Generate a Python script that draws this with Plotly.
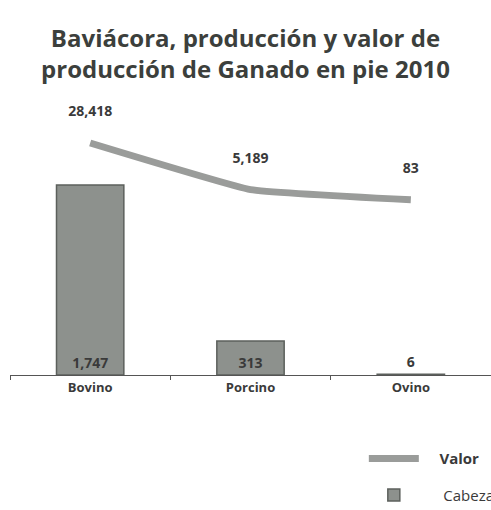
import plotly.graph_objects as go

categorias = ["Bovino", "Porcino", "Ovino"]
cabezas = [1747, 313, 6]
valor = [28418, 5189, 83]
etiquetas_cabezas = ["1,747", "313", "6"]
etiquetas_valor = ["28,418", "5,189", "83"]

NB = "\u00a0"

fig = go.Figure()

fig.add_trace(go.Scatter(
    x=categorias, y=valor, name=NB * 4 + "<b>Valor</b>", yaxis="y2",
    legendgroup="valor",
    mode="lines+markers+text",
    line=dict(color="#9a9c9a", width=7, shape="spline", smoothing=0.3),
    marker=dict(size=36, color="rgba(0,0,0,0)"),
    text=etiquetas_valor, textposition="top center",
    textfont=dict(family="Open Sans", size=14, color="#3a3a3a", weight="bold"),
    cliponaxis=False,
))

fig.add_trace(go.Bar(
    x=categorias, y=cabezas, name=NB * 5 + "Cabezas",
    legendgroup="cabezas",
    marker=dict(color="#8d918d", line=dict(color="#5c605c", width=1.5)),
    width=0.42,
    text=etiquetas_cabezas,
    textposition=["inside", "inside", "outside"],
    insidetextanchor="start",
    textfont=dict(family="Open Sans", size=14, color="#3a3a3a", weight="bold"),
    cliponaxis=False,
))

fig.update_layout(
    width=491, height=510,
    paper_bgcolor="white", plot_bgcolor="white",
    margin=dict(l=10, r=0, t=100, b=135, autoexpand=False),
    title=dict(
        text="Baviácora, producción y valor de<br>producción de Ganado en pie 2010",
        x=0.5, xanchor="center", y=0.908, yanchor="middle",
        font=dict(family="Open Sans", size=24, color="#3c3f3c", weight="bold"),
    ),
    xaxis=dict(
        range=[-0.5, 2.5],
        showline=True, linecolor="#555", linewidth=1.2,
        ticks="outside", tickson="boundaries", ticklen=4, tickcolor="#555",
        tickfont=dict(family="Open Sans", size=13, color="#3a3a3a", weight="bold"),
        showgrid=False,
    ),
    yaxis=dict(range=[0, 2528], visible=False, showgrid=False),
    yaxis2=dict(range=[-87250, 49860], overlaying="y", visible=False, showgrid=False),
    showlegend=True,
    legend=dict(
        xref="container", yref="container", x=0.741, y=0.133, xanchor="left", yanchor="top",
        itemwidth=50, traceorder="grouped", tracegroupgap=14,
        font=dict(family="Open Sans", size=15, color="#3a3a3a"),
        bgcolor="rgba(0,0,0,0)",
    ),
)

fig.write_html("out.html", config={"displayModeBar": False},
               post_script="document.body.style.margin='0';")
